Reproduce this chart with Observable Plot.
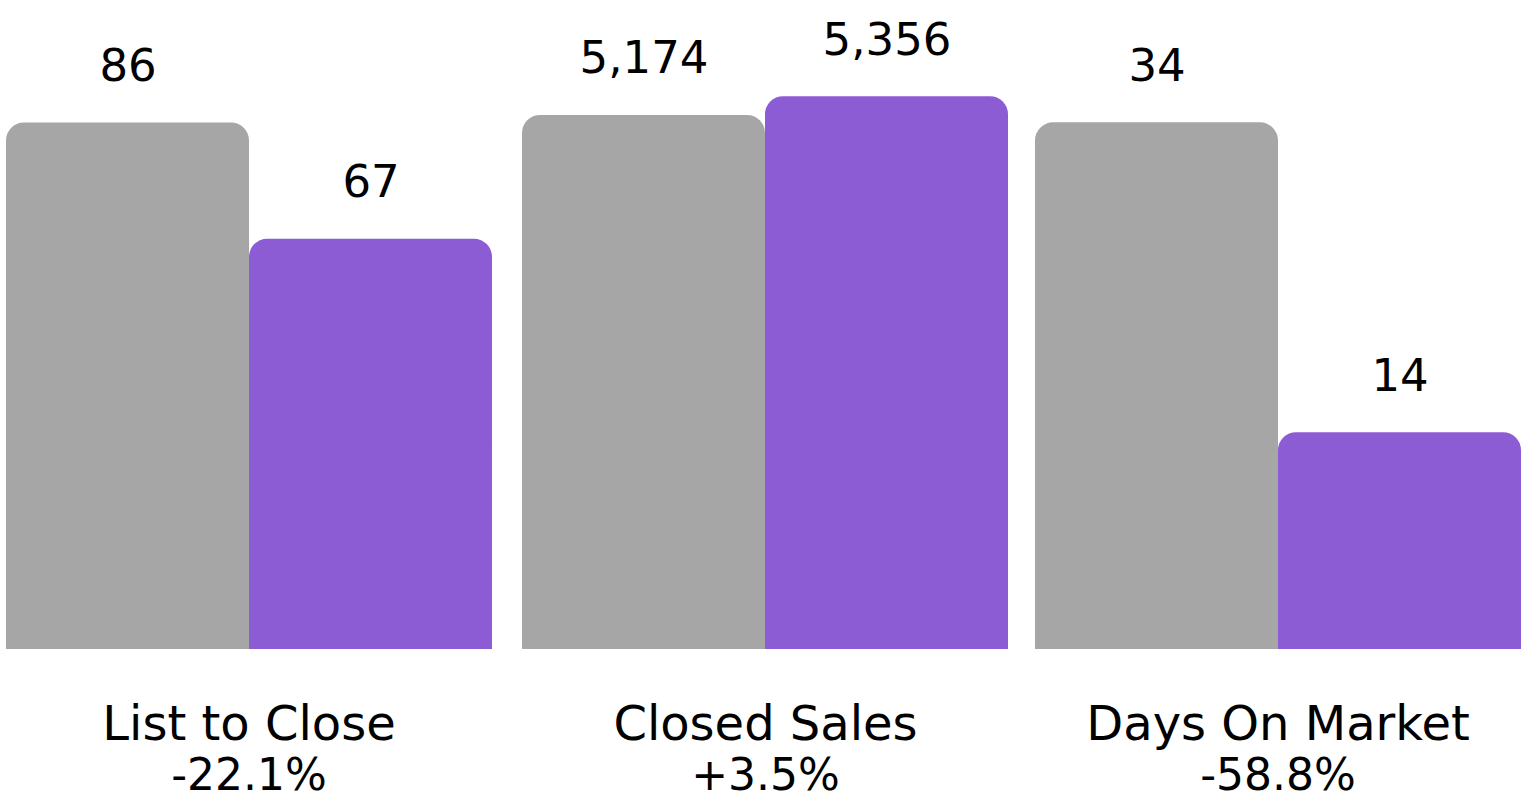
<!DOCTYPE html>
<html><head><meta charset="utf-8">
<script src="https://cdn.jsdelivr.net/npm/d3@7"></script>
<script src="https://cdn.jsdelivr.net/npm/@observablehq/plot@0.6"></script>
<style>
body{margin:0;background:#fff}
#row{display:flex;width:1535px;height:802px;overflow:hidden}
#row svg{display:block}
</style>
</head><body><div id="row"></div>
<script>
const groups = ["List to Close", "Closed Sales", "Days On Market"];
const previous = [86, 5174, 34];
const current = [67, 5356, 14];
const changes = ["-22.1%", "+3.5%", "-58.8%"];
const yMax = [106, 6288, 41.9];
const periods = ["prev", "curr"];
const colors = ["#a6a6a6", "#8c5cd5"];

const layout = [
  {width: 512, ml: 5, mr: 20},
  {width: 511, ml: 10, mr: 15},
  {width: 512, ml: 11, mr: 14}
];
const fmt = d3.format(",");
const row = document.getElementById("row");

groups.forEach((g, i) => {
  const rows = [
    {period: periods[0], value: previous[i]},
    {period: periods[1], value: current[i]}
  ];
  const chart = Plot.plot({
    width: layout[i].width,
    height: 802,
    marginTop: 0,
    marginBottom: 153,
    marginLeft: layout[i].ml,
    marginRight: layout[i].mr,
    x: {domain: periods, padding: 0, axis: null},
    y: {domain: [0, yMax[i]], axis: null},
    color: {domain: periods, range: colors},
    style: {fontFamily: "'DejaVu Sans', sans-serif", background: "white", overflow: "visible", color: "black"},
    marks: [
      Plot.barY(rows, {x: "period", y: "value", fill: "period", rx: 18}),
      Plot.barY(rows, {x: "period", y1: 0, y2: d => d.value / 2, fill: "period"}),
      Plot.text(rows, {x: "period", y: "value", text: d => fmt(d.value), lineAnchor: "bottom", dy: -42, fontSize: 45, fill: "black"}),
      Plot.text([g], {frameAnchor: "bottom", text: d => d, lineAnchor: "bottom", dy: 90, fontSize: 48, fill: "black"}),
      Plot.text([changes[i]], {frameAnchor: "bottom", text: d => d, lineAnchor: "bottom", dy: 140, fontSize: 44, fill: "black"})
    ]
  });
  row.appendChild(chart);
});
</script>
</body></html>
